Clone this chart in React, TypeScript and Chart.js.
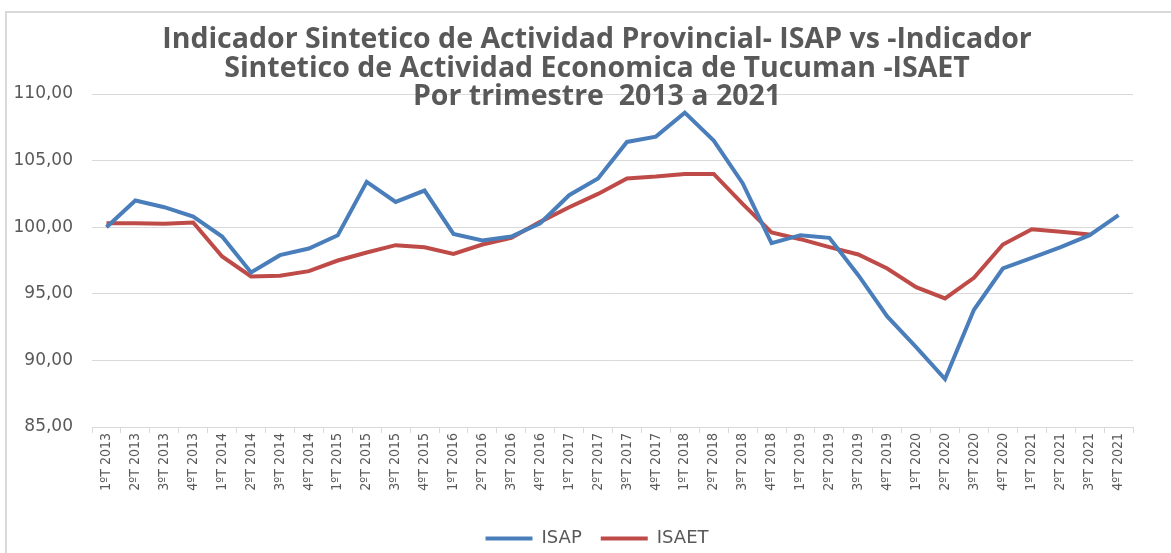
import React, { useEffect, useRef } from "react";
import { Chart, registerables } from "chart.js";

Chart.register(...registerables);

const TITLE_LINES = [
  "Indicador Sintetico de Actividad Provincial- ISAP vs -Indicador",
  "Sintetico de Actividad Economica de Tucuman -ISAET",
  "Por trimestre  2013 a 2021",
];

const CATEGORIES = [
  "1ºT 2013", "2ºT 2013", "3ºT 2013", "4ºT 2013",
  "1ºT 2014", "2ºT 2014", "3ºT 2014", "4ºT 2014",
  "1ºT 2015", "2ºT 2015", "3ºT 2015", "4ºT 2015",
  "1ºT 2016", "2ºT 2016", "3ºT 2016", "4ºT 2016",
  "1ºT 2017", "2ºT 2017", "3ºT 2017", "4ºT 2017",
  "1ºT 2018", "2ºT 2018", "3ºT 2018", "4ºT 2018",
  "1ºT 2019", "2ºT 2019", "3ºT 2019", "4ºT 2019",
  "1ºT 2020", "2ºT 2020", "3ºT 2020", "4ºT 2020",
  "1ºT 2021", "2ºT 2021", "3ºT 2021", "4ºT 2021",
];

const ISAP = [
  100.0, 102.0, 101.5, 100.8,
  99.3, 96.6, 97.9, 98.4,
  99.4, 103.4, 101.9, 102.75,
  99.5, 99.0, 99.3, 100.3,
  102.4, 103.65, 106.4, 106.8,
  108.6, 106.5, 103.3, 98.8,
  99.4, 99.2, 96.4, 93.3,
  91.0, 88.6, 93.8, 96.9,
  97.7, 98.5, 99.4, 100.9,
];

const ISAET = [
  100.3, 100.3, 100.25, 100.35,
  97.8, 96.3, 96.35, 96.7,
  97.5, 98.1, 98.65, 98.5,
  98.0, 98.7, 99.2, 100.4,
  101.5, 102.5, 103.65, 103.8,
  104.0, 104.0, 101.75, 99.6,
  99.1, 98.5, 97.95, 96.9,
  95.5, 94.65, 96.2, 98.7,
  99.85, 99.65, 99.45, null,
];

const Y_MIN = 85;
const Y_MAX = 110;
const Y_STEP = 5;

const framePlugin = {
  id: "frame",
  afterLayout(chart: any) {
    // let the left axis labels use the full canvas margin (avoid clipping)
    const s = chart.scales.y;
    if (s) {
      s.left = 0;
      s.width = s.right;
    }
  },
  beforeDraw(chart: any) {
    const ctx = chart.ctx;
    ctx.save();
    ctx.strokeStyle = "#d9d9d9";
    ctx.lineWidth = 2;
    ctx.beginPath();
    ctx.moveTo(6, chart.height);
    ctx.lineTo(6, 12);
    ctx.lineTo(chart.width, 12);
    ctx.stroke();
    ctx.restore();
  },
};

export default function App() {
  const ref = useRef<HTMLCanvasElement | null>(null);

  useEffect(() => {
    if (!ref.current) return;
    const chart = new Chart(ref.current, {
      type: "line",
      data: {
        labels: CATEGORIES,
        datasets: [
          {
            label: "ISAP",
            data: ISAP,
            borderColor: "#4A7EBB",
            backgroundColor: "#4A7EBB",
            borderWidth: 4,
            pointRadius: 0,
            tension: 0,
            fill: false,
            yAxisID: "y",
          },
          {
            label: "ISAET",
            data: ISAET,
            borderColor: "#BE4B48",
            backgroundColor: "#BE4B48",
            borderWidth: 4,
            pointRadius: 0,
            tension: 0,
            fill: false,
            yAxisID: "y",
          },
        ],
      },
      options: {
        responsive: false,
        animation: false,
        layout: { padding: { left: 23, right: 0, top: 0, bottom: -4.5 } },
        plugins: {
          title: {
            display: true,
            text: TITLE_LINES,
            color: "#595959",
            font: { family: "'Open Sans', sans-serif", size: 28.5, weight: "bold", lineHeight: "28.5px" },
            padding: { top: 26, bottom: -17.5 },
          },
          legend: {
            position: "bottom",
            labels: {
              usePointStyle: true,
              pointStyle: "line",
              pointStyleWidth: 47,
              padding: 19,
              color: "#595959",
              font: { family: "'DejaVu Sans', sans-serif", size: 18 },
            },
          },
          tooltip: { enabled: false },
        },
        scales: {
          x: {
            offset: true,
            grid: {
              drawOnChartArea: false,
              drawTicks: true,
              tickLength: 6,
              color: "#d9d9d9",
              offset: true,
            },
            border: { display: true, color: "#d9d9d9" },
            ticks: {
              autoSkip: false,
              maxRotation: 90,
              minRotation: 90,
              padding: 0,
              color: "#595959",
              font: { family: "'Liberation Sans Narrow', 'DejaVu Sans Condensed', 'Liberation Sans', sans-serif", size: 14 },
            },
            afterFit(scale: any) {
              scale.height = 83.5;
            },
          },
          y: {
            min: Y_MIN,
            max: Y_MAX,
            grid: { color: "#d9d9d9", drawTicks: false },
            border: { display: false },
            ticks: {
              stepSize: Y_STEP,
              padding: 19,
              color: "#595959",
              font: { family: "'DejaVu Sans', sans-serif", size: 17 },
              callback: (v: any) => Number(v).toFixed(2).replace(".", ","),
            },
            afterFit(scale: any) {
              scale.width = 69;
            },
          },
          yRight: {
            type: "linear",
            position: "right",
            display: true,
            grid: { display: false, drawTicks: false },
            border: { display: false },
            ticks: { display: false },
            afterFit(scale: any) {
              scale.width = 38;
            },
          },
        },
      },
      plugins: [framePlugin],
    });
    return () => chart.destroy();
  }, []);

  return (
    <div style={{ position: "absolute", left: 0, top: 0, width: 1171, height: 553, background: "#fff" }}>
      <canvas ref={ref} width={1171} height={553} style={{ width: 1171, height: 553 }} />
    </div>
  );
}
